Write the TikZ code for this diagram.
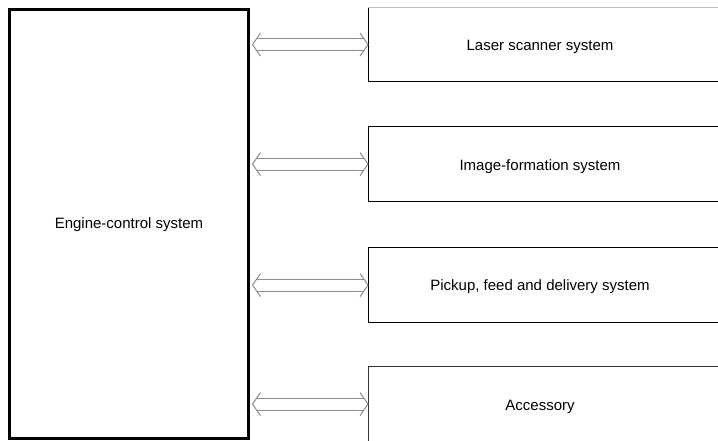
\documentclass[tikz,border=0pt]{standalone}
\usepackage{fontspec}
\setmainfont{Liberation Sans}
\usetikzlibrary{calc}
\tikzset{
  sysbox/.style={draw=black, line width=1.2pt, minimum width=370pt, anchor=north west, inner sep=0pt},
  enginebox/.style={draw=black, line width=3pt, inner sep=0pt},
  lbl/.style={font=\fontsize{15}{17}\selectfont, inner sep=0pt},
  arrline/.style={draw=black!45, line width=1pt}
}
\newcommand\dblarrow[2]{%
  \coordinate (L) at ($(#1.east |- #2.west)+(2.5,0)$);
  \coordinate (R) at (#2.west);
  \draw[arrline] ($(L)+(8,-11.5)$) -- (L) -- ($(L)+(8,11.5)$);
  \draw[arrline] ($(R)+(-8,-11.5)$) -- (R) -- ($(R)+(-8,11.5)$);
  \draw[arrline] ($(L)+(4.2,-6)$) -- ($(R)+(-4.2,-6)$);
  \draw[arrline] ($(L)+(4.2,6)$) -- ($(R)+(-4.2,6)$);
}
\begin{document}
\begin{tikzpicture}[x=1pt,y=-1pt]
\useasboundingbox (0,0) rectangle (718,440);
\clip (0,0) rectangle (718,440);
\fill[white] (0,0) rectangle (718,440);
% engine box
\node[enginebox, minimum width=239pt, minimum height=429pt, anchor=north west] (engine) at (8,8) {};
\node[lbl] (enginetxt) at ($(engine.center)+(0,1)$) {Engine-control system};
% right boxes
\node[sysbox, minimum height=74pt] (laser) at (368,7) {};
\draw[black!25, line width=1pt] (laser.north west) -- (laser.north east);
\node[sysbox, minimum height=75pt] (image) at (368,126) {};
\node[sysbox, minimum height=75pt] (pickup) at (368,247) {};
\node[sysbox, minimum height=75pt, draw=black!80] (access) at (368,366) {};
% labels
\node[lbl] (lasertxt) at (540,47) {Laser scanner system};
\node[lbl] (imagetxt) at (540,167) {Image-formation system};
\node[lbl] (pickuptxt) at (540,287) {Pickup, feed and delivery system};
\node[lbl] (accesstxt) at (540,407) {Accessory};
% arrows
\dblarrow{engine}{laser}
\dblarrow{engine}{image}
\dblarrow{engine}{pickup}
\dblarrow{engine}{access}
\end{tikzpicture}
\end{document}
